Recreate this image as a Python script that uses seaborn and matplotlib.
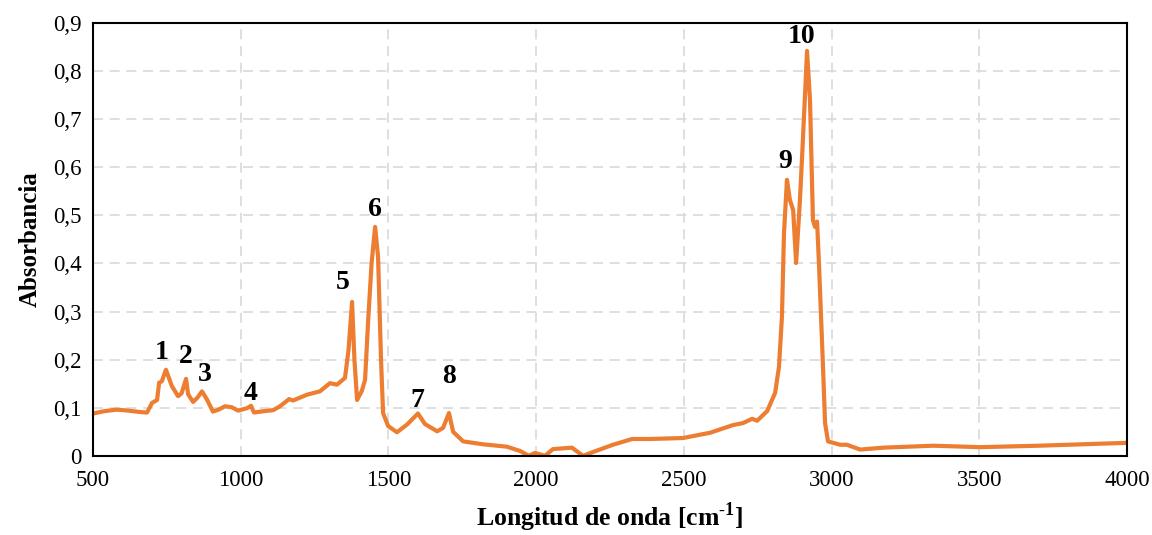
import seaborn as sns
import matplotlib.pyplot as plt
import pandas as pd
from matplotlib.ticker import FuncFormatter

# Spectrum (wavenumber in cm-1, absorbance)
wavenumber = [500, 540, 580, 620, 660, 683, 700, 717, 724, 733, 747, 767, 788, 800, 815,
              822, 839, 855, 869, 886, 906, 925, 947, 970, 991, 1021, 1035, 1045, 1080, 1110,
              1133, 1164, 1177, 1224, 1268, 1302, 1326, 1353, 1365, 1377, 1385, 1394, 1410, 1421,
              1431, 1443, 1455, 1465, 1475, 1482, 1499, 1529, 1563, 1600, 1624, 1665, 1685, 1705,
              1719, 1753, 1820, 1901, 1946, 1975, 1996, 2030, 2057, 2121, 2159, 2193, 2260, 2325,
              2386, 2497, 2589, 2667, 2700, 2731, 2748, 2782, 2809, 2822, 2832, 2839, 2849, 2859,
              2870, 2880, 2893, 2903, 2917, 2927, 2937, 2944, 2951, 2958, 2971, 2978, 2988, 3029,
              3052, 3097, 3175, 3344, 3503, 3700, 3850, 4000]
absorbance = [0.088, 0.093, 0.096, 0.094, 0.091, 0.090, 0.110, 0.116, 0.152, 0.155, 0.179, 0.145,
              0.124, 0.130, 0.160, 0.128, 0.112, 0.122, 0.134, 0.117, 0.092, 0.096, 0.103, 0.101,
              0.094, 0.099, 0.104, 0.090, 0.093, 0.095, 0.103, 0.118, 0.115, 0.127, 0.134, 0.151,
              0.148, 0.162, 0.220, 0.320, 0.200, 0.116, 0.135, 0.158, 0.276, 0.400, 0.476, 0.414,
              0.200, 0.089, 0.062, 0.049, 0.065, 0.088, 0.066, 0.051, 0.058, 0.089, 0.050, 0.030,
              0.024, 0.019, 0.010, 0.000, 0.006, 0.000, 0.014, 0.017, 0.000, 0.008, 0.023, 0.035,
              0.035, 0.037, 0.048, 0.064, 0.068, 0.077, 0.073, 0.093, 0.131, 0.185, 0.289, 0.463,
              0.574, 0.532, 0.511, 0.401, 0.532, 0.657, 0.842, 0.740, 0.490, 0.476, 0.487, 0.390,
              0.185, 0.068, 0.030, 0.023, 0.023, 0.013, 0.017, 0.021, 0.018, 0.021, 0.024, 0.027]

# Peak labels and where they sit
peak_labels = ['1', '2', '3', '4', '5', '6', '7', '8', '9', '10']
peak_x = [734, 815, 879, 1035, 1346, 1455, 1597, 1705, 2843, 2900]
peak_y = [0.214, 0.206, 0.170, 0.129, 0.360, 0.513, 0.116, 0.164, 0.611, 0.871]

x_ticks = [500, 1000, 1500, 2000, 2500, 3000, 3500, 4000]
y_ticks = [0, 0.1, 0.2, 0.3, 0.4, 0.5, 0.6, 0.7, 0.8, 0.9]

sns.set_style('whitegrid')
plt.rcParams['font.family'] = ['Liberation Serif', 'DejaVu Serif']
plt.rcParams['text.color'] = 'black'
plt.rcParams['axes.labelcolor'] = 'black'
plt.rcParams['mathtext.fontset'] = 'custom'
plt.rcParams['mathtext.rm'] = 'Liberation Serif'
plt.rcParams['mathtext.bf'] = 'Liberation Serif:bold'

df = pd.DataFrame({'wavenumber': wavenumber, 'absorbance': absorbance})

fig = plt.figure(figsize=(11.52, 5.35), dpi=100)
ax = fig.add_axes([0.0807, 0.148, 0.8976, 0.809])

sns.lineplot(data=df, x='wavenumber', y='absorbance', color='#ED7D31', linewidth=3.0, ax=ax)

for lab, px, py in zip(peak_labels, peak_x, peak_y):
    ax.text(px, py, lab, ha='center', va='center', fontsize=20, fontweight='bold', color='black')

ax.set_xlim(500, 4000)
ax.set_ylim(0, 0.9)
ax.set_xticks(x_ticks)
ax.set_yticks(y_ticks)
ax.yaxis.set_major_formatter(FuncFormatter(lambda v, p: '0' if v == 0 else f'{v:.1f}'.replace('.', ',')))
ax.tick_params(axis='both', length=0, labelsize=16.5, colors='black')
ax.tick_params(axis='x', pad=10)
ax.tick_params(axis='y', pad=8)

ax.grid(True, color='#D9D9D9', linestyle=(0, (6, 4)), linewidth=1.2)
for s in ax.spines.values():
    s.set_color('black')
    s.set_linewidth(1.5)

ax.set_xlabel(r'Longitud de onda [cm$^{\mathbf{\text{-}1}}$]', fontsize=18.5, fontweight='bold',
              labelpad=7, color='black')
ax.set_ylabel('Absorbancia', fontsize=18, fontweight='bold', labelpad=8, color='black')

fig.savefig('out.png', dpi=100)
plt.close()
